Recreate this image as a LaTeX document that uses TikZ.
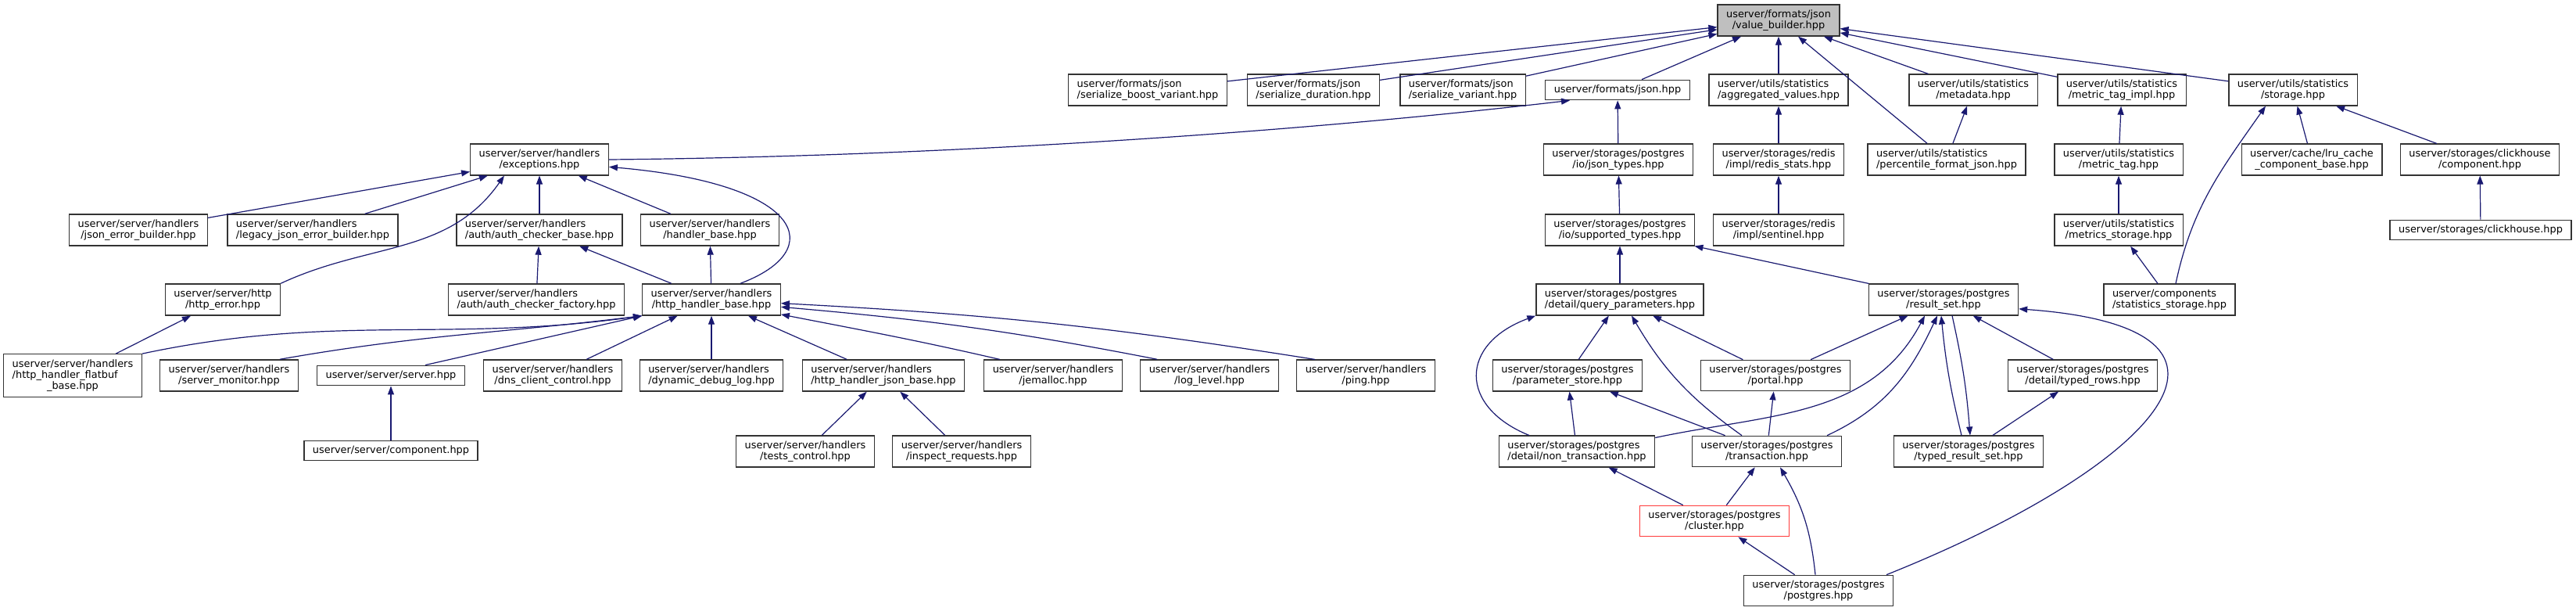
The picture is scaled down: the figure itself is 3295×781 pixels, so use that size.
\documentclass[tikz,border=0pt]{standalone}
\usepackage{fontspec}
\setmainfont{DejaVu Sans}
\usetikzlibrary{arrows.meta}
\definecolor{edgeBlue}{HTML}{191970}
\definecolor{focusGray}{HTML}{BFBFBF}
\definecolor{truncRed}{HTML}{FF3B3B}

\begin{document}
\begin{tikzpicture}[x=1pt, y=1pt,
    fileBox/.style={draw=black!80, line width=1.3pt, fill=white, inner xsep=11pt, inner ysep=6.5pt,
        font=\fontsize{12.9}{14.3}\selectfont, align=center},
    leftBox/.style={fileBox, align=left},
    inclArrow/.style={draw=edgeBlue, line width=1.2pt, -{Triangle[length=11pt,width=8pt]}}]
    \useasboundingbox (0,0) rectangle (3295,-781);

    % Header of the graph
    \node[fileBox, fill=focusGray] (valueBuilder) at (2275,-26) {userver/formats/json\\/value\_builder.hpp};

    % Row 1
    \node[leftBox] (serBoostVariant) at (1468,-115) {userver/formats/json\\/serialize\_boost\_variant.hpp};
    \node[leftBox] (serDuration) at (1680,-115) {userver/formats/json\\/serialize\_duration.hpp};
    \node[leftBox] (serVariant) at (1871,-115) {userver/formats/json\\/serialize\_variant.hpp};
    \node[fileBox] (formatsJson) at (2069,-115) {userver/formats/json.hpp};
    \node[leftBox] (aggValues) at (2275,-115) {userver/utils/statistics\\/aggregated\_values.hpp};
    \node[fileBox] (metadata) at (2524,-115) {userver/utils/statistics\\/metadata.hpp};
    \node[fileBox] (metricTagImpl) at (2714,-115) {userver/utils/statistics\\/metric\_tag\_impl.hpp};
    \node[fileBox] (statsStorage) at (2933,-115) {userver/utils/statistics\\/storage.hpp};

    % Row 2
    \node[fileBox] (exceptions) at (690,-204) {userver/server/handlers\\/exceptions.hpp};
    \node[fileBox] (jsonTypes) at (2070,-204) {userver/storages/postgres\\/io/json\_types.hpp};
    \node[fileBox] (redisStats) at (2275,-204) {userver/storages/redis\\/impl/redis\_stats.hpp};
    \node[leftBox] (percentileJson) at (2490,-204) {userver/utils/statistics\\/percentile\_format\_json.hpp};
    \node[fileBox] (metricTag) at (2710,-204) {userver/utils/statistics\\/metric\_tag.hpp};
    \node[fileBox] (lruCache) at (2957,-204) {userver/cache/lru\_cache\\\_component\_base.hpp};
    \node[fileBox] (chComponent) at (3172,-204) {userver/storages/clickhouse\\/component.hpp};

    % Row 3
    \node[fileBox] (jsonErrBuilder) at (177,-294) {userver/server/handlers\\/json\_error\_builder.hpp};
    \node[leftBox] (legacyErrBuilder) at (400,-294) {userver/server/handlers\\/legacy\_json\_error\_builder.hpp};
    \node[leftBox] (authCheckerBase) at (690,-294) {userver/server/handlers\\/auth/auth\_checker\_base.hpp};
    \node[fileBox] (handlerBase) at (908,-294) {userver/server/handlers\\/handler\_base.hpp};
    \node[fileBox] (supportedTypes) at (2072,-294) {userver/storages/postgres\\/io/supported\_types.hpp};
    \node[fileBox] (sentinel) at (2275,-294) {userver/storages/redis\\/impl/sentinel.hpp};
    \node[fileBox] (metricsStorage) at (2710,-294) {userver/utils/statistics\\/metrics\_storage.hpp};
    \node[fileBox] (clickhouse) at (3173,-294) {userver/storages/clickhouse.hpp};

    % Row 4
    \node[fileBox] (httpError) at (285,-383) {userver/server/http\\/http\_error.hpp};
    \node[leftBox] (authCheckerFactory) at (686,-383) {userver/server/handlers\\/auth/auth\_checker\_factory.hpp};
    \node[fileBox] (httpHandlerBase) at (910,-383) {userver/server/handlers\\/http\_handler\_base.hpp};
    \node[leftBox] (queryParams) at (2072,-383) {userver/storages/postgres\\/detail/query\_parameters.hpp};
    \node[fileBox] (resultSet) at (2486,-383) {userver/storages/postgres\\/result\_set.hpp};
    \node[leftBox] (statisticsStorage) at (2775,-383) {userver/components\\/statistics\_storage.hpp};

    % Row 5
    \node[leftBox] (flatbufBase) at (93,-480) {userver/server/handlers\\/http\_handler\_flatbuf\\\hspace*{\fill}\_base.hpp\hspace*{\fill}};
    \node[fileBox] (serverMonitor) at (293,-480) {userver/server/handlers\\/server\_monitor.hpp};
    \node[fileBox] (server) at (500,-480) {userver/server/server.hpp};
    \node[fileBox] (dnsControl) at (707,-480) {userver/server/handlers\\/dns\_client\_control.hpp};
    \node[leftBox] (dynDebugLog) at (910,-480) {userver/server/handlers\\/dynamic\_debug\_log.hpp};
    \node[leftBox] (jsonBase) at (1130,-480) {userver/server/handlers\\/http\_handler\_json\_base.hpp};
    \node[fileBox] (jemalloc) at (1347,-480) {userver/server/handlers\\/jemalloc.hpp};
    \node[fileBox] (logLevel) at (1547,-480) {userver/server/handlers\\/log\_level.hpp};
    \node[fileBox] (ping) at (1747,-480) {userver/server/handlers\\/ping.hpp};
    \node[fileBox] (paramStore) at (2005,-480) {userver/storages/postgres\\/parameter\_store.hpp};
    \node[fileBox] (portal) at (2271,-480) {userver/storages/postgres\\/portal.hpp};
    \node[fileBox] (typedRows) at (2664,-480) {userver/storages/postgres\\/detail/typed\_rows.hpp};

    % Row 6
    \node[fileBox] (component) at (500,-576) {userver/server/component.hpp};
    \node[fileBox] (testsControl) at (1030,-577) {userver/server/handlers\\/tests\_control.hpp};
    \node[fileBox] (inspectReq) at (1230,-577) {userver/server/handlers\\/inspect\_requests.hpp};
    \node[leftBox] (nonTransaction) at (2017,-577) {userver/storages/postgres\\/detail/non\_transaction.hpp};
    \node[fileBox] (transaction) at (2260,-577) {userver/storages/postgres\\/transaction.hpp};
    \node[fileBox] (typedResultSet) at (2518,-577) {userver/storages/postgres\\/typed\_result\_set.hpp};

    % Rows 7 and 8
    \node[fileBox, draw=truncRed] (cluster) at (2193,-666) {userver/storages/postgres\\/cluster.hpp};
    \node[fileBox] (postgres) at (2326,-755) {userver/storages/postgres\\/postgres.hpp};

    % Includes of value_builder.hpp
    \foreach \src in {serBoostVariant,serDuration,serVariant,formatsJson,aggValues,percentileJson,metadata,metricTagImpl,statsStorage}
        \draw[inclArrow] (\src) -- (valueBuilder);

    % Server handlers
    \draw[inclArrow] (exceptions.east) .. controls (1200,-200) and (1650,-170) .. ([xshift=-61]formatsJson.south);
    \draw[inclArrow] (jsonTypes) -- (formatsJson);
    \foreach \src in {jsonErrBuilder,legacyErrBuilder,authCheckerBase,handlerBase}
        \draw[inclArrow] (\src) -- (exceptions);
    \draw[inclArrow] (httpError.north east) .. controls +(25:125) and +(-125:125) .. ([xshift=-45]exceptions.south);
    \draw[inclArrow] ([xshift=37]httpHandlerBase.north) .. controls (1060,-320) and (1030,-235) .. (exceptions.-6);
    \draw[inclArrow] (authCheckerFactory) -- (authCheckerBase);
    \draw[inclArrow] (httpHandlerBase) -- (authCheckerBase);
    \draw[inclArrow] (httpHandlerBase) -- (handlerBase);
    \draw[inclArrow] (flatbufBase) -- (httpError);
    \draw[inclArrow] (flatbufBase.north east) .. controls +(12:250) and +(188:250) .. (httpHandlerBase.south west);
    \draw[inclArrow] ([xshift=65]serverMonitor.north) .. controls +(10:182) and +(187:182) .. (httpHandlerBase.south west);
    \draw[inclArrow] ([xshift=44]server.north) -- (httpHandlerBase.south west);
    \foreach \src in {dnsControl,dynDebugLog,jsonBase}
        \draw[inclArrow] (\src) -- (httpHandlerBase);
    \draw[inclArrow] ([xshift=-68]jemalloc.north) .. controls +(167:111) and +(-11:109) .. (httpHandlerBase.-12);
    \draw[inclArrow] ([xshift=-67]logLevel.north) .. controls +(169:190) and +(-5:190) .. (httpHandlerBase.-6);
    \draw[inclArrow] ([xshift=-65]ping.north) .. controls +(171:268) and +(-3:268) .. (httpHandlerBase.-3);
    \draw[inclArrow] (component) -- (server);
    \draw[inclArrow] (testsControl) -- (jsonBase);
    \draw[inclArrow] (inspectReq) -- (jsonBase);

    % Statistics and redis
    \draw[inclArrow] (redisStats) -- (aggValues);
    \draw[inclArrow] (sentinel) -- (redisStats);
    \draw[inclArrow] (percentileJson) -- (metadata);
    \draw[inclArrow] (metricTag) -- (metricTagImpl);
    \draw[inclArrow] (metricsStorage) -- (metricTag);
    \draw[inclArrow] (statisticsStorage) -- (metricsStorage);
    \draw[inclArrow] ([xshift=8]statisticsStorage.north) .. controls +(78:100) and +(-125:100) .. ([xshift=-35]statsStorage.south);
    \draw[inclArrow] (lruCache) -- (statsStorage);
    \draw[inclArrow] (chComponent) -- (statsStorage);
    \draw[inclArrow] (clickhouse) -- (chComponent);

    % Postgres
    \draw[inclArrow] (supportedTypes) -- (jsonTypes);
    \draw[inclArrow] (queryParams) -- (supportedTypes);
    \draw[inclArrow] (resultSet) -- (supportedTypes);
    \draw[inclArrow] ([xshift=-61]nonTransaction.north) .. controls (1866,-520) and (1866,-440) .. (queryParams.south west);
    \draw[inclArrow] (paramStore) -- (queryParams);
    \draw[inclArrow] ([xshift=-32]transaction.north) .. controls +(144.5:81) and +(-59.5:81) .. ([xshift=15]queryParams.south);
    \draw[inclArrow] (portal) -- (queryParams);
    \draw[inclArrow] (portal) -- (resultSet);
    \draw[inclArrow] ([yshift=-3]nonTransaction.north east) .. controls +(12:148) and +(-118:148) .. ([xshift=-24]resultSet.south);
    \draw[inclArrow] ([xshift=77]transaction.north) .. controls +(25:82) and +(-115:82) .. ([xshift=-8]resultSet.south);
    \draw[inclArrow] ([xshift=-9]typedResultSet.north) .. controls +(103.6:61) and +(-84.4:61) .. ([xshift=-3]resultSet.south);
    \draw[inclArrow] ([xshift=11]resultSet.south) .. controls +(-77.5:61) and +(94.5:61) .. ([xshift=2]typedResultSet.north);
    \draw[inclArrow] (typedRows) -- (resultSet);
    \draw[inclArrow] ([xshift=87]postgres.north) .. controls (2750,-600) and (2930,-420) .. (resultSet.-7);
    \draw[inclArrow] (nonTransaction) -- (paramStore);
    \draw[inclArrow] (transaction) -- (paramStore);
    \draw[inclArrow] (transaction) -- (portal);
    \draw[inclArrow] (typedResultSet) -- (typedRows);
    \draw[inclArrow] (cluster) -- (nonTransaction);
    \draw[inclArrow] (cluster) -- (transaction);
    \draw[inclArrow] ([xshift=-4]postgres.north) .. controls +(96:57) and +(-60:57) .. ([xshift=17]transaction.south);
    \draw[inclArrow] (postgres) -- (cluster);
\end{tikzpicture}
\end{document}
